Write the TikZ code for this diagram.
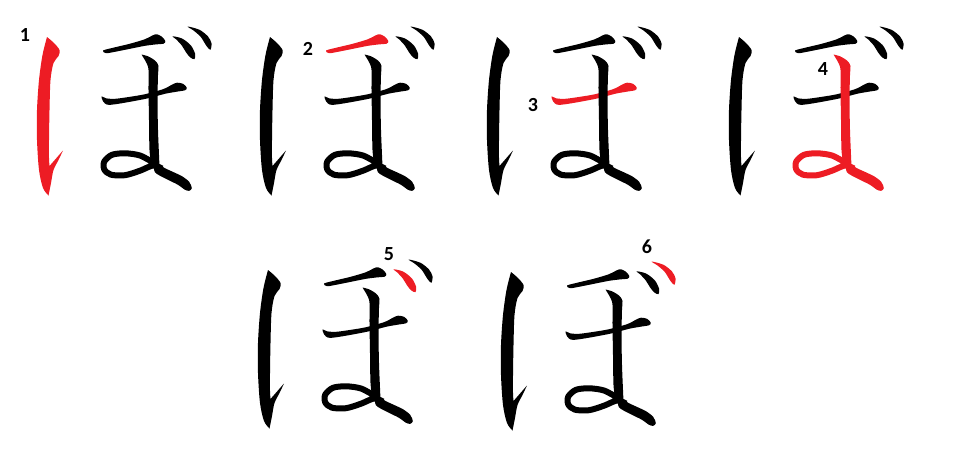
\documentclass[tikz,border=0pt]{standalone}
\usepackage{fontspec}
\setsansfont{Carlito}
\usepackage{xcolor}
\usepackage{tikz}
\definecolor{ink}{HTML}{000000}
\definecolor{hl}{HTML}{ED1C24}
\tikzset{
	num/.style={font=\sffamily\bfseries\fontsize{20}{20}\selectfont, inner sep=0pt},
	st/.code={\ifnum#1=\hlnum\relax\pgfkeysalso{color=hl}\else\pgfkeysalso{color=ink}\fi},
	pics/bo/.style={code={
		\def\hlnum{#1}
		% stroke 1: left vertical with hook
		\fill[st=1] plot[smooth] coordinates {(47,37) (54,43) (59.5,50) (58.5,56) (53.5,63) (50.5,80) (49.5,110) (49,140) (49,158) (49.5,166)}
			-- plot[smooth] coordinates {(63,150.5) (58.5,160) (53.5,170) (51,183) (48.5,195.5)}
			-- plot[smooth] coordinates {(48.5,195.5) (43,188) (39,170) (37,140) (37,110) (39,80) (42.5,55) (47,37)} -- cycle;
		% stroke 2: upper bar
		\fill[st=2] plot[smooth cycle] coordinates {(103,50.5) (115,47.3) (130,43.7) (145,39.2) (153,35.2) (157,34.3) (162,36.8) (165.3,41) (163.7,43.7) (157,44.3) (145,45.8) (130,48.8) (115,51.8) (106,53.2)};
		% stroke 3: lower bar
		\fill[st=3] plot[smooth cycle] coordinates {(101.5,96.3) (106,98.3) (115,98.8) (130,96.8) (145,94.2) (163,89.2) (172,84.7) (177,82.7) (183,83.8) (186.7,87.5) (185.2,90.2) (176,91.8) (165,93.8) (148,98.3) (130,101.8) (115,104.3) (107,104.7) (103,101.2)};
		% stroke 4: vertical, loop and tail
		\fill[st=4] (141.5,54.5) -- plot[smooth] coordinates {(141.5,54.5) (148.5,56.5) (155.5,61) (158.5,66) (158,75) (157.5,100) (158,130) (159,155) (159.5,166)}
			-- plot[smooth] coordinates {(151.5,166) (149.5,150) (149,120) (148.5,90) (148.5,70) (146.5,63) (141.5,54.5)} -- cycle;
		\draw[st=4, line width=6] plot[smooth] coordinates {(154,163) (140,155.5) (125,153.3) (112,154.8) (104.3,161.5) (104.3,169.5) (111,174.7) (125,175.2) (140,170.7) (153,165.5) (162,168.5)};
		\fill[st=4] plot[smooth cycle] coordinates {(155,163.5) (167,169.2) (182,176.2) (189.3,182) (191.8,188.2) (189.2,190.8) (185,189.8) (178,184.8) (166,178.8) (155,172.3)};
		% strokes 5 and 6: dakuten
		\fill[st=5] plot[smooth cycle] coordinates {(172.5,36.3) (182,38.5) (190.7,45.2) (195,53.5) (194.5,59.2) (190,57.2) (185.8,52) (181.8,45.5) (176,39.2)};
		\fill[st=6] plot[smooth cycle] coordinates {(187.5,26.5) (199.5,29.8) (208,36.5) (211.5,43.3) (210.3,49.8) (206.3,45.7) (200.8,37) (193.8,30.7)};
	}}
}

\begin{document}
\begin{tikzpicture}[x=1pt, y=-1pt]
	\useasboundingbox (0,0) rectangle (962,458);
	% Characters, one stroke highlighted in each:
	\pic (c1) at (0,0) {bo=1};
	\pic (c2) at (223,0) {bo=2};
	\pic (c3) at (450,0) {bo=3};
	\pic (c4) at (692,0) {bo=4};
	\pic (c5) at (221,233) {bo=5};
	\pic (c6) at (464,235) {bo=6};
	% Stroke numbers:
	\node[num] (n1) at (25,35) {1};
	\node[num] (n2) at (308,49) {2};
	\node[num] (n3) at (533,105) {3};
	\node[num] (n4) at (823,69) {4};
	\node[num] (n5) at (389,254) {5};
	\node[num] (n6) at (647,247) {6};
\end{tikzpicture}
\end{document}
